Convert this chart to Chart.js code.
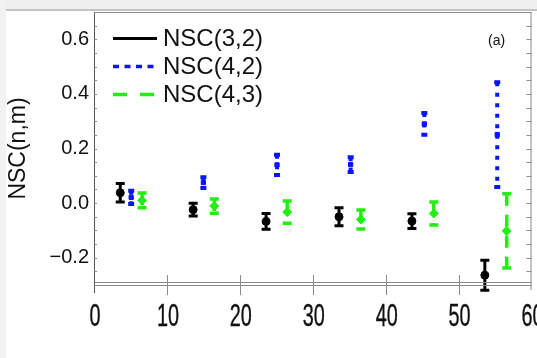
<!DOCTYPE html>
<html>
<head>
<meta charset="utf-8">
<style>
  body { margin: 0; background: #fff; }
  #topband { position: absolute; left: 0; top: 0; width: 537px; height: 9px; background: #efefef; border-bottom: 2px solid #c4c4c4; }
  #leftband { position: absolute; left: 0; top: 0; width: 6px; height: 358px; background: #f2f2f2; }
  #chart { position: absolute; left: 0; top: 0; }
</style>
</head>
<body>
<div id="topband"></div>
<div id="leftband"></div>
<canvas id="chart" width="537" height="358"></canvas>

<script src="https://cdn.jsdelivr.net/npm/chart.js@4.4.0/dist/chart.umd.min.js"></script>
<script>
  // NSC(3,2)
  const x32 = [3.6, 13.6, 23.6, 33.6, 43.6, 53.6]
  const y32 = [0.038, -0.024, -0.067, -0.050, -0.066, -0.264]
  const e32 = [0.034, 0.023, 0.029, 0.033, 0.027, 0.055]
  // NSC(4,2)
  const x42 = [5.1, 15.0, 25.1, 35.2, 45.3, 55.3]
  const y42 = [0.021, 0.075, 0.140, 0.141, 0.290, 0.251]
  const e42 = [0.024, 0.020, 0.037, 0.027, 0.040, 0.192]
  // NSC(4,3)
  const x43 = [6.6, 16.5, 26.5, 36.6, 46.6, 56.6]
  const y43 = [0.010, -0.011, -0.033, -0.060, -0.038, -0.102]
  const e43 = [0.027, 0.026, 0.041, 0.035, 0.042, 0.136]

  const seriesNames = ['NSC(3,2)', 'NSC(4,2)', 'NSC(4,3)']
  const xTicks = [0, 10, 20, 30, 40, 50, 60]
  const xTickLabels = ['0', '10', '20', '30', '40', '50', '60']
  const yTicks = [-0.2, 0, 0.2, 0.4, 0.6]
  const yTickLabels = ['\u22120.2', '0.0', '0.2', '0.4', '0.6']

  function points(xs, ys) {
    return xs.map((x, i) => ({ x: x, y: ys[i] }))
  }

  const errStyles = [
    { color: '#000000', width: 3, dash: [], cap: 9 },
    { color: '#0a14ff', width: 4, dash: [4, 6.5], cap: 6 },
    { color: '#22ee11', width: 3.5, dash: [12, 9], cap: 9 }
  ]
  const legendDash = [[], [6, 5.5], [14, 13]]

  const errorBars = {
    id: 'errorBars',
    beforeDatasetsDraw(chart) {
      const ctx = chart.ctx
      const xs = chart.scales.x, ys = chart.scales.y
      chart.data.datasets.forEach((ds, k) => {
        const st = errStyles[k]
        ctx.save()
        ctx.strokeStyle = st.color
        ctx.lineWidth = st.width
        ds.data.forEach((p, i) => {
          const px = xs.getPixelForValue(p.x)
          const top = ys.getPixelForValue(p.y + ds.errs[i])
          const bot = ys.getPixelForValue(p.y - ds.errs[i])
          ctx.setLineDash(st.dash)
          ctx.beginPath()
          ctx.moveTo(px, top)
          ctx.lineTo(px, bot)
          ctx.stroke()
          ctx.setLineDash([])
          ctx.beginPath()
          ctx.moveTo(px - st.cap / 2, top)
          ctx.lineTo(px + st.cap / 2, top)
          ctx.moveTo(px - st.cap / 2, bot)
          ctx.lineTo(px + st.cap / 2, bot)
          ctx.stroke()
        })
        ctx.restore()
      })
    }
  }

  const frame = {
    id: 'frame',
    afterDraw(chart) {
      const ctx = chart.ctx
      const a = chart.chartArea
      const xs = chart.scales.x, ys = chart.scales.y
      ctx.save()
      ctx.strokeStyle = '#8a8a8a'
      ctx.lineWidth = 1
      ctx.beginPath()
      // box
      ctx.moveTo(a.left + 0.5, a.top + 0.5)
      ctx.lineTo(a.right - 0.5, a.top + 0.5)
      ctx.moveTo(a.right - 0.5, a.top)
      ctx.lineTo(a.right - 0.5, a.bottom + 5)
      ctx.moveTo(a.left + 0.5, a.bottom - 2.5)
      ctx.lineTo(a.right, a.bottom - 2.5)
      ctx.moveTo(a.left + 0.5, a.bottom + 0.5)
      ctx.lineTo(a.right, a.bottom + 0.5)
      ctx.stroke()
      ctx.strokeStyle = '#555'
      ctx.beginPath()
      ctx.moveTo(a.left + 0.5, a.top)
      ctx.lineTo(a.left + 0.5, a.bottom + 8)
      ctx.stroke()
      // minor ticks on y
      ctx.strokeStyle = '#8a8a8a'
      ctx.beginPath()
      for (let v = -0.3; v <= 0.701; v += 0.05) {
        const py = Math.round(ys.getPixelForValue(v)) + 0.5
        ctx.moveTo(a.left, py)
        ctx.lineTo(a.left + 3, py)
        ctx.moveTo(a.right - 5, py)
        ctx.lineTo(a.right, py)
      }
      // x ticks crossing the axis
      xTicks.slice(1, -1).forEach(v => {
        const px = Math.round(xs.getPixelForValue(v)) + 0.5
        ctx.moveTo(px, a.bottom - 10)
        ctx.lineTo(px, a.bottom + 10)
      })
      ctx.stroke()

      // x tick labels, tall and narrow like the original
      ctx.fillStyle = '#111'
      ctx.strokeStyle = '#111'
      ctx.font = '31px "Liberation Sans", Arial, sans-serif'
      ctx.textAlign = 'center'
      ctx.textBaseline = 'middle'
      xTicks.forEach((v, i) => {
        ctx.save()
        ctx.translate(xs.getPixelForValue(v) + 1, a.bottom + 32)
        ctx.scale(0.64, 1)
        ctx.lineWidth = 0.4
        ctx.fillText(xTickLabels[i], 0, 0)
        ctx.strokeText(xTickLabels[i], 0, 0)
        ctx.restore()
      })

      // legend
      ctx.textAlign = 'left'
      ctx.font = '24px "Liberation Sans", Arial, sans-serif'
      chart.data.datasets.forEach((ds, k) => {
        const ly = 38.5 + k * 28
        ctx.strokeStyle = errStyles[k].color
        ctx.lineWidth = k === 0 ? 3 : 3.5
        ctx.setLineDash(legendDash[k])
        ctx.beginPath()
        ctx.moveTo(113, ly)
        ctx.lineTo(157, ly)
        ctx.stroke()
        ctx.setLineDash([])
        ctx.fillText(ds.label, 163, ly + 1)
      })
      ctx.font = '14px "Liberation Sans", Arial, sans-serif'
      ctx.fillText('(a)', 488, 41)
      ctx.restore()
    }
  }

  const ctx = document.getElementById('chart').getContext('2d')
  const chart = new Chart(ctx, {
    type: 'scatter',
    data: {
      datasets: [
        { label: seriesNames[0], data: points(x32, y32), errs: e32, backgroundColor: '#000', borderColor: '#000', pointStyle: 'circle', pointRadius: 4 },
        { label: seriesNames[1], data: points(x42, y42), errs: e42, backgroundColor: '#0a14ff', borderColor: '#0a14ff', pointStyle: 'rect', pointRadius: 3 },
        { label: seriesNames[2], data: points(x43, y43), errs: e43, backgroundColor: '#22ee11', borderColor: '#22ee11', pointStyle: 'rectRot', pointRadius: 4.5 }
      ]
    },
    options: {
      responsive: false,
      animation: false,
      devicePixelRatio: 1,
      layout: { padding: { top: 12, right: 5, left: 0, bottom: 0 } },
      plugins: { legend: { display: false }, tooltip: { enabled: false } },
      scales: {
        x: {
          type: 'linear', min: 0, max: 60,
          grid: { display: false, drawTicks: false },
          border: { display: false },
          afterBuildTicks: s => { s.ticks = xTicks.map(v => ({ value: v })) },
          afterFit: s => { s.height = 73; s.paddingLeft = 0; s.paddingRight = 0 },
          ticks: { display: false }
        },
        y: {
          type: 'linear', min: -0.3, max: 0.7,
          grid: { display: false, drawTicks: false },
          border: { display: false },
          afterBuildTicks: s => { s.ticks = yTicks.map(v => ({ value: v })) },
          afterFit: s => { s.width = 94; s.paddingTop = 0; s.paddingBottom = 0 },
          ticks: {
            padding: 5, color: '#111',
            font: { family: '"Liberation Sans", Arial', size: 20 },
            callback: v => yTickLabels[yTicks.findIndex(t => Math.abs(t - v) < 1e-9)]
          },
          title: {
            display: true, text: 'NSC(n,m)', color: '#111',
            font: { family: '"Liberation Sans", Arial', size: 23 },
            padding: { top: 5, bottom: 0 }
          }
        }
      }
    },
    plugins: [errorBars, frame]
  })
</script>
</body>
</html>
